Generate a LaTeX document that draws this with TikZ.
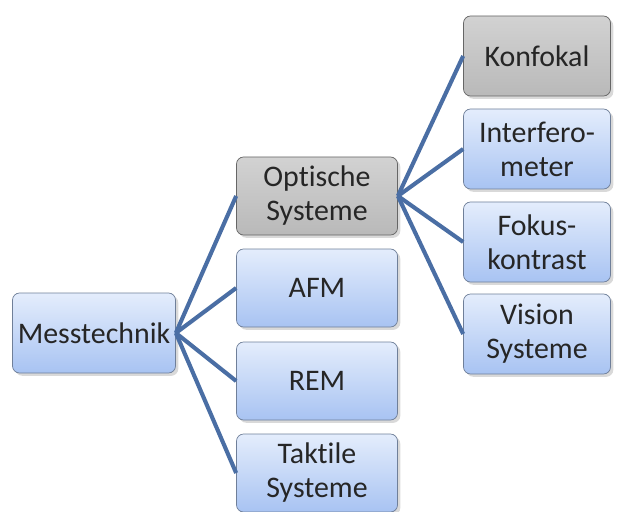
\documentclass[tikz,border=0pt]{standalone}
\usepackage{fontspec}
\setmainfont[Ligatures={NoCommon}]{Carlito}
\usetikzlibrary{shadows}
\definecolor{linkblue}{HTML}{4A6EA4}
\definecolor{boxtop}{HTML}{E4EDFC}
\definecolor{boxbot}{HTML}{A8C3F2}
\definecolor{greytop}{HTML}{D2D2D2}
\definecolor{greybot}{HTML}{B9B9B9}
\definecolor{boxline}{HTML}{6F7F99}
\definecolor{textgrey}{HTML}{262626}

\begin{document}
\begin{tikzpicture}[x=0.03cm,y=-0.03cm,align=center,
    item/.style={rectangle,rounded corners=6pt,draw=boxline,line width=0.6pt,
        top color=boxtop,bottom color=boxbot,drop shadow={opacity=0.3},
        text=textgrey,font=\fontsize{25.5}{29}\selectfont,inner sep=0pt},
    midbox/.style={item,minimum width=161*0.03cm,minimum height=78*0.03cm},
    rightbox/.style={item,minimum width=147*0.03cm,minimum height=80*0.03cm},
    greybox/.style={top color=greytop,bottom color=greybot,draw=gray!80!black},
    link/.style={draw=linkblue,line width=3.5pt}]
    \useasboundingbox (0,0) rectangle (621,512);

    \node[item,minimum width=163*0.03cm,minimum height=80*0.03cm] at (94, 333) (mess) {Messtechnik};
    \node[midbox,greybox] at (317, 196) (opt) {Optische\\Systeme};
    \node[midbox] at (317, 288) (afm) {AFM};
    \node[midbox] at (317, 381) (rem) {REM};
    \node[midbox] at (317, 473) (takt) {Taktile\\Systeme};
    \node[rightbox,greybox] at (537, 56) (konf) {Konfokal};
    \node[rightbox] at (537, 149) (inter) {Interfero-\\meter};
    \node[rightbox] at (537, 242) (fokus) {Fokus-\\kontrast};
    \node[rightbox] at (537, 334) (vision) {Vision\\Systeme};

    \draw[link] (mess.east) -- (opt.west);
    \draw[link] (mess.east) -- (afm.west);
    \draw[link] (mess.east) -- (rem.west);
    \draw[link] (mess.east) -- (takt.west);
    \draw[link] (opt.east) -- (konf.west);
    \draw[link] (opt.east) -- (inter.west);
    \draw[link] (opt.east) -- (fokus.west);
    \draw[link] (opt.east) -- (vision.west);
\end{tikzpicture}
\end{document}
